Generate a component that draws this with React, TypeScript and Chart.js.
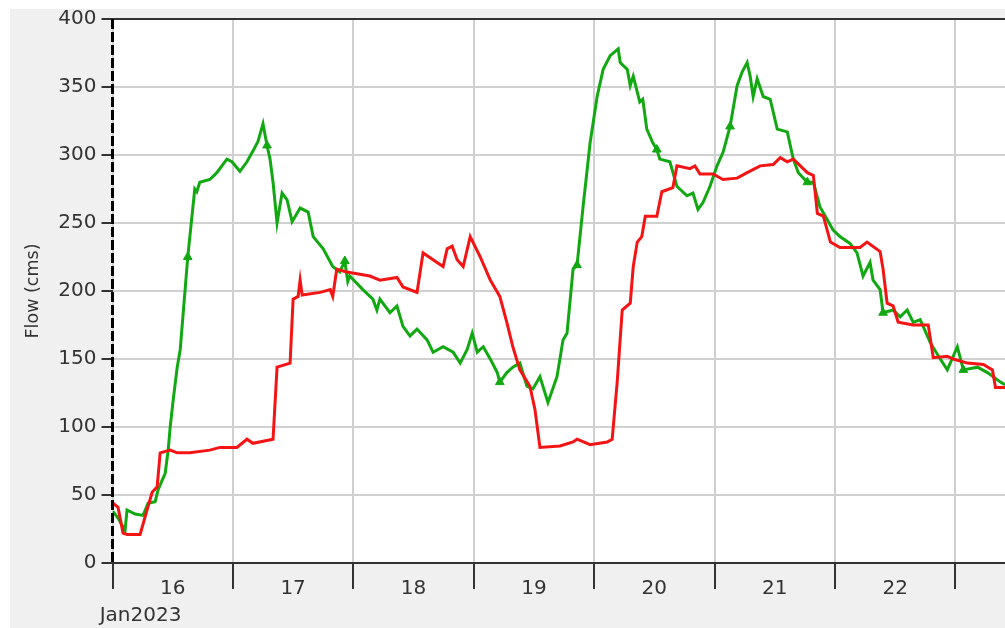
import React, { useEffect, useRef } from "react";
import { Chart, registerables } from "chart.js";

Chart.register(...registerables);

// ---- data (hours since 16 Jan 2023 00:00) ----
const START_DAY = 16;
const X_MAX_HOURS = 177.9;
const Y_MAX = 400;
const Y_STEP = 50;
const DATE_LABEL = "Jan2023";
const Y_TITLE = "Flow (cms)";

const observedHours = [
  0.1, 1.1, 2.5, 2.9, 4.5, 6.1, 7.1, 8.5, 9.1, 10.5,
  11.1, 11.5, 12.1, 12.9, 13.5, 15.0, 16.4, 16.8, 17.4, 19.4,
  20.8, 22.8, 23.8, 25.4, 26.8, 28.0, 29.0, 30.0, 30.8, 31.4,
  32.0, 32.8, 33.8, 34.8, 35.8, 37.4, 39.0, 40.0, 42.0, 43.9,
  45.3, 46.3, 46.9, 47.3, 49.9, 51.9, 52.7, 53.3, 55.3, 56.7,
  57.9, 59.3, 60.7, 62.7, 63.9, 65.9, 67.9, 69.3, 70.7, 71.7,
  72.7, 73.9, 75.3, 76.7, 77.2, 78.6, 79.8, 81.2, 82.6, 83.8,
  85.2, 86.8, 88.6, 89.8, 90.6, 91.8, 92.6, 93.8, 95.2, 96.6,
  97.8, 99.2, 100.8, 101.2, 102.6, 103.2, 103.8, 105.1, 105.7, 106.5,
  107.7, 108.5, 109.1, 111.1, 112.5, 114.5, 115.7, 116.7, 117.7, 119.1,
  120.5, 121.7, 123.1, 124.5, 125.5, 126.5, 127.1, 127.7, 128.5, 129.7,
  131.1, 132.5, 134.5, 135.7, 136.7, 138.5, 139.7, 141.0, 142.4, 143.6,
  145.0, 147.0, 148.4, 149.6, 151.0, 151.6, 153.0, 153.6, 155.6, 157.0,
  158.4, 159.6, 161.0, 163.0, 165.0, 166.4, 168.4, 169.6, 172.4, 174.4,
  177.0, 177.9,
];
const observedFlow = [
  38, 33, 24, 39, 36, 35, 44, 45, 54, 66,
  83, 100, 120, 144, 157, 225, 275, 273, 280, 282,
  287, 297, 295, 288, 295, 303, 310, 323, 307, 297,
  280, 250, 272, 267, 251, 261, 258, 240, 231, 218,
  214, 222, 207, 211, 201, 194, 186, 194, 184, 189,
  174, 167, 172, 164, 155, 159, 155, 147, 157, 169,
  155, 159, 150, 140, 133, 140, 144, 147, 130, 128,
  137, 118, 137, 164, 169, 216, 219, 262, 309, 343,
  363, 373, 378, 368, 363, 351, 358, 339, 341, 319,
  309, 304, 297, 295, 277, 270, 272, 260, 265, 277,
  292, 302, 321, 351, 361, 368, 358, 343, 356, 343,
  341, 319, 317, 297, 287, 280, 280, 262, 253, 245,
  240, 235, 228, 211, 221, 208, 201, 184, 186, 181,
  186, 177, 179, 162, 150, 142, 159, 142, 144, 140,
  133, 131,
];
const observedMarkerHours = [15.0, 30.8, 46.3, 77.2, 92.6, 108.5, 123.1, 138.5, 153.6, 169.6];

const simulatedHours = [
  0.1, 1.1, 2.1, 2.9, 5.5, 6.9, 7.9, 8.9, 9.5, 11.5,
  12.9, 15.4, 19.4, 21.4, 24.8, 26.8, 28.0, 32.0, 32.8, 35.4,
  36.0, 37.0, 37.4, 37.8, 41.4, 43.4, 43.9, 44.7, 46.7, 51.3,
  53.3, 56.7, 57.9, 60.7, 61.9, 64.7, 65.9, 66.7, 67.7, 68.7,
  69.9, 71.3, 73.3, 75.3, 77.2, 78.6, 79.8, 81.2, 83.2, 84.2,
  85.2, 89.2, 91.8, 92.6, 95.2, 98.6, 99.6, 100.6, 101.6, 103.2,
  103.8, 104.6, 105.5, 106.2, 108.5, 109.5, 111.7, 112.5, 115.1, 116.1,
  117.1, 119.7, 121.7, 124.5, 126.5, 129.1, 131.7, 133.1, 134.5, 135.7,
  137.1, 138.5, 139.7, 140.5, 141.7, 143.1, 145.0, 149.0, 150.4, 153.0,
  153.6, 154.4, 155.6, 156.6, 159.6, 162.6, 163.6, 166.4, 167.6, 170.4,
  173.6, 175.4, 176.0, 177.9,
];
const simulatedFlow = [
  44, 41, 22, 21, 21, 39, 52, 56, 81, 83,
  81, 81, 83, 85, 85, 91, 88, 91, 144, 147,
  194, 196, 208, 197, 199, 201, 196, 216, 214, 211,
  208, 210, 203, 199, 228, 221, 218, 231, 233, 223,
  218, 240, 225, 208, 196, 177, 159, 142, 130, 113,
  85, 86, 89, 91, 87, 89, 91, 133, 186, 191,
  218, 236, 240, 255, 255, 273, 276, 292, 290, 292,
  286, 286, 282, 283, 287, 292, 293, 298, 295, 297,
  292, 287, 285, 257, 255, 236, 232, 232, 236, 229,
  216, 191, 189, 177, 175, 175, 151, 152, 150, 147,
  146, 142, 129, 129,
];

const FONT = "'DejaVu Sans', sans-serif";

const backgroundPlugin = {
  id: "panelBackground",
  beforeDraw(chart: any) {
    const { ctx, width, height, chartArea } = chart;
    ctx.save();
    ctx.fillStyle = "#ffffff";
    ctx.fillRect(0, 0, width, height);
    ctx.fillStyle = "#f0f0f0";
    ctx.fillRect(10, 9, width - 10, height - 9);
    ctx.fillStyle = "#ffffff";
    ctx.fillRect(chartArea.left, chartArea.top, chartArea.right - chartArea.left, chartArea.bottom - chartArea.top);
    ctx.restore();
  },
};

const overlayPlugin = {
  id: "overlay",
  afterDraw(chart: any) {
    const { ctx, chartArea } = chart;
    const xs = chart.scales.x;
    ctx.save();
    // dashed start-of-period marker along the left edge
    ctx.strokeStyle = "#000000";
    ctx.lineWidth = 3;
    ctx.setLineDash([10, 3]);
    ctx.beginPath();
    ctx.moveTo(chartArea.left, chartArea.top);
    ctx.lineTo(chartArea.left, chartArea.bottom);
    ctx.stroke();
    ctx.setLineDash([]);
    // date label under first day
    ctx.font = `20px ${FONT}`;
    ctx.fillStyle = "#333333";
    ctx.textAlign = "center";
    ctx.textBaseline = "middle";
    ctx.fillText(DATE_LABEL, xs.getPixelForValue(0) + 28, 616);
    ctx.restore();
  },
};

export default function App() {
  const canvasRef = useRef<HTMLCanvasElement | null>(null);

  useEffect(() => {
    const canvas = canvasRef.current;
    if (!canvas) return;
    const toPoints = (xs: number[], ys: number[]) => xs.map((x, i) => ({ x, y: ys[i] }));

    const chart = new Chart(canvas, {
      type: "line",
      data: {
        datasets: [
          {
            label: "Simulated",
            data: toPoints(simulatedHours, simulatedFlow),
            borderColor: "#f41414",
            backgroundColor: "#f41414",
            borderWidth: 3,
            pointRadius: 0,
            tension: 0,
          },
          {
            label: "Observed",
            data: toPoints(observedHours, observedFlow),
            borderColor: "#12a812",
            backgroundColor: "#12a812",
            borderWidth: 3,
            pointStyle: "triangle",
            pointRadius: (ctx: any) => (ctx.raw && observedMarkerHours.includes(ctx.raw.x) ? 5 : 0),
            pointBorderWidth: 1,
            tension: 0,
          },
        ],
      },
      options: {
        responsive: false,
        animation: false,
        devicePixelRatio: 1,
        events: [],
        layout: { padding: { left: 10, top: 19, right: 0, bottom: 0 } },
        plugins: {
          legend: { display: false },
          tooltip: { enabled: false },
          title: { display: false },
        },
        scales: {
          x: {
            type: "linear",
            min: 0,
            max: X_MAX_HOURS,
            afterFit: (scale: any) => {
              scale.height = 65;
            },
            border: { display: true, color: "#333333", width: 2 },
            grid: {
              color: (ctx: any) => (ctx.tick && ctx.tick.value % 24 === 0 ? "#d0d0d0" : "rgba(0,0,0,0)"),
              lineWidth: 2,
              tickLength: 26,
              tickWidth: 2,
              tickColor: (ctx: any) => (ctx.tick && ctx.tick.value % 24 === 0 ? "#333333" : "rgba(0,0,0,0)"),
            },
            ticks: {
              stepSize: 12,
              includeBounds: false,
              autoSkip: false,
              maxRotation: 0,
              minRotation: 0,
              padding: -12,
              color: "#333333",
              font: { family: FONT, size: 20 },
              callback: (value: any) => {
                const v = Number(value);
                return v % 24 === 12 ? String(START_DAY + Math.floor(v / 24)) : "";
              },
            },
          },
          y: {
            min: 0,
            max: Y_MAX,
            afterFit: (scale: any) => {
              scale.width = 102.5;
            },
            border: { display: false },
            grid: {
              color: (ctx: any) => (ctx.tick && ctx.tick.value === Y_MAX ? "#333333" : "#d0d0d0"),
              lineWidth: 2,
              tickLength: 11,
              tickWidth: 2,
              tickColor: "#333333",
            },
            ticks: {
              stepSize: Y_STEP,
              padding: 5,
              color: "#333333",
              font: { family: FONT, size: 20 },
            },
            title: {
              display: true,
              text: Y_TITLE,
              color: "#333333",
              font: { family: FONT, size: 17.5 },
              padding: { top: 13, bottom: 0 },
            },
          },
        },
      },
      plugins: [backgroundPlugin, overlayPlugin],
    } as any);

    return () => chart.destroy();
  }, []);

  return (
    <div style={{ position: "absolute", left: 0, top: 0, width: 1005, height: 628 }}>
      <canvas ref={canvasRef} width={1005} height={628} style={{ display: "block", width: 1005, height: 628 }} />
    </div>
  );
}
